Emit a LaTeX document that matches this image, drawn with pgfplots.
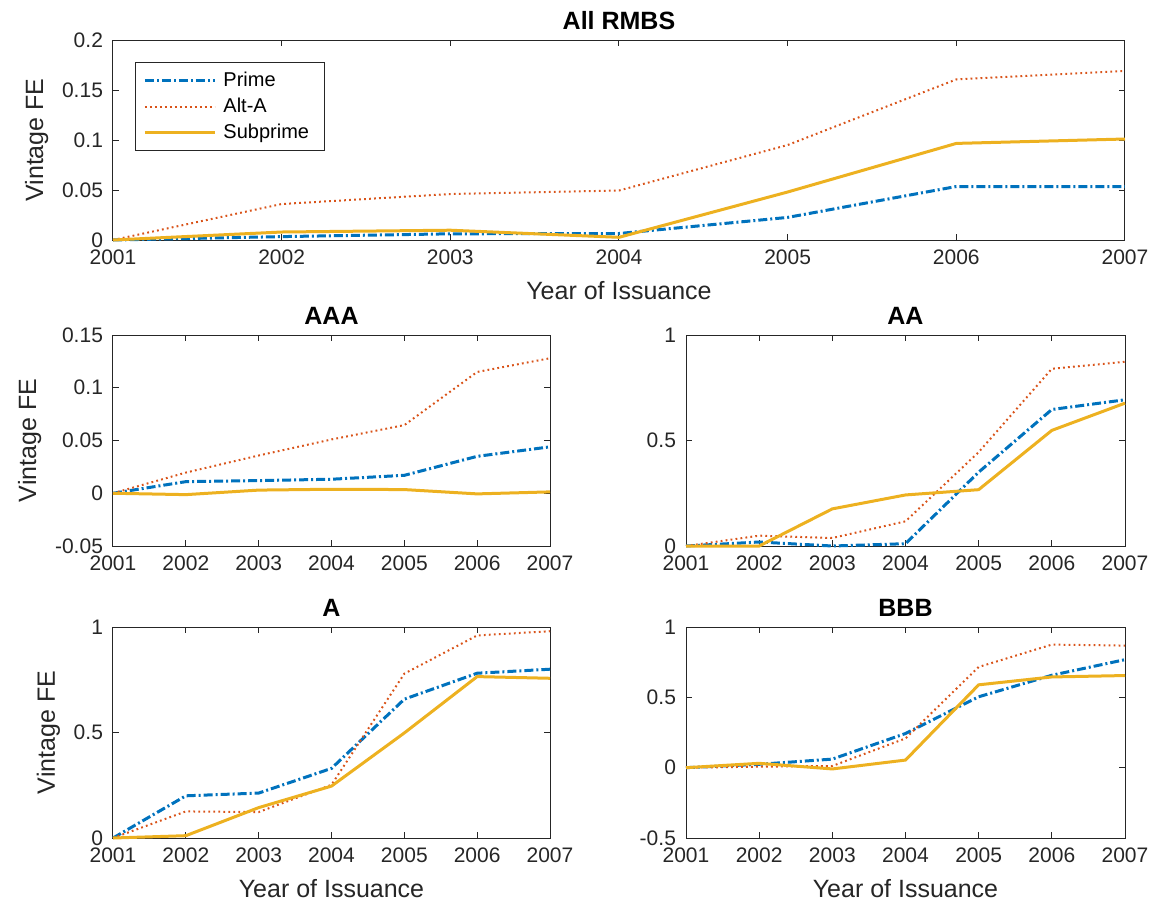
\documentclass[border=0pt]{standalone}
\usepackage{fontspec}
\setmainfont{Liberation Sans}
\usepackage{pgfplots}
\pgfplotsset{compat=1.18}
\definecolor{mblue}{rgb}{0,0.447,0.741}
\definecolor{morange}{rgb}{0.850,0.325,0.098}
\definecolor{myellow}{rgb}{0.929,0.694,0.125}
\definecolor{axgray}{rgb}{0.15,0.15,0.15}
\pgfplotsset{
 mystyle/.style={
  scale only axis,
  anchor=south west,
  clip=false,
  xmin=2001, xmax=2007,
  xtick={2001,2002,2003,2004,2005,2006,2007},
  /pgf/number format/1000 sep={},
  /pgf/number format/assume math mode=true,
  axis line style={axgray, line width=0.5pt},
  tick style={axgray, line width=0.5pt},
  major tick length=3pt,
  tick align=inside,
  ticklabel style={font=\fontsize{10.5}{12}\selectfont, text=axgray},
  xticklabel style={yshift=-1.5pt},
  yticklabel style={xshift=-1.5pt},
  label style={font=\fontsize{12.5}{14}\selectfont, text=axgray},
  xlabel style={yshift=-1.5pt},
  title style={font=\fontsize{12.5}{14}\selectfont\bfseries, text=black, yshift=-4.5pt},
  scaled y ticks=false,
  yticklabel style={/pgf/number format/fixed, /pgf/number format/precision=2},
 },
 prime/.style={mblue, line width=1.5pt, dash pattern=on 4.5pt off 1.5pt on 1pt off 1.5pt},
 alta/.style={morange, line width=1pt, dash pattern=on 0.9pt off 1.6pt},
 subp/.style={myellow, line width=1.5pt},
}
\begin{document}
\begin{tikzpicture}
\useasboundingbox (0pt,0pt) rectangle (576.5pt,-453.5pt);
% Top: All RMBS
\begin{axis}[mystyle, at={(56.5pt,-120pt)}, width=506pt, height=100pt,
  ymin=0, ymax=0.2, ytick={0,0.05,0.1,0.15,0.2},
  title={All RMBS}, xlabel={Year of Issuance}, ylabel={Vintage FE},
  legend style={at={(0.0217,0.89)}, anchor=north west, draw=axgray, line width=0.5pt,
    font=\fontsize{10}{12}\selectfont, text=black, row sep=0.2pt, inner xsep=4pt, inner ysep=2.8pt,
    nodes={inner xsep=3.5pt}},
  legend cell align=left,
  legend image code/.code={\draw[#1] (0pt,0pt) -- (35pt,0pt);}]
\addplot[prime] coordinates {(2001,0) (2002,0.0034) (2003,0.0062) (2004,0.0065) (2005,0.0226) (2006,0.0535) (2007,0.0535)};
\addlegendentry{Prime}
\addplot[alta] coordinates {(2001,0) (2002,0.036) (2003,0.046) (2004,0.0495) (2005,0.095) (2006,0.1606) (2007,0.169)};
\addlegendentry{Alt-A}
\addplot[subp] coordinates {(2001,0) (2002,0.008) (2003,0.0098) (2004,0.0027) (2005,0.048) (2006,0.0966) (2007,0.101)};
\addlegendentry{Subprime}
\end{axis}
% AAA
\begin{axis}[mystyle, at={(56.5pt,-273pt)}, width=218.5pt, height=105.5pt,
  ymin=-0.05, ymax=0.15, ytick={-0.05,0,0.05,0.1,0.15},
  title={AAA}, ylabel={Vintage FE}]
\addplot[prime] coordinates {(2001,0) (2002,0.011) (2003,0.012) (2004,0.0133) (2005,0.017) (2006,0.035) (2007,0.044)};
\addplot[alta] coordinates {(2001,0) (2002,0.0196) (2003,0.0358) (2004,0.051) (2005,0.0646) (2006,0.115) (2007,0.128)};
\addplot[subp] coordinates {(2001,0) (2002,-0.0013) (2003,0.003) (2004,0.0038) (2005,0.0035) (2006,-0.0006) (2007,0.0013)};
\end{axis}
% AA
\begin{axis}[mystyle, at={(343pt,-273pt)}, width=219.5pt, height=105.5pt,
  ymin=0, ymax=1, ytick={0,0.5,1},
  title={AA}]
\addplot[prime] coordinates {(2001,0) (2002,0.019) (2003,0.0) (2004,0.011) (2005,0.35) (2006,0.647) (2007,0.693)};
\addplot[alta] coordinates {(2001,0) (2002,0.049) (2003,0.038) (2004,0.117) (2005,0.445) (2006,0.84) (2007,0.873)};
\addplot[subp] coordinates {(2001,0) (2002,0) (2003,0.176) (2004,0.242) (2005,0.267) (2006,0.548) (2007,0.677)};
\end{axis}
% A
\begin{axis}[mystyle, at={(56.5pt,-419pt)}, width=218.5pt, height=105.5pt,
  ymin=0, ymax=1, ytick={0,0.5,1},
  title={A}, xlabel={Year of Issuance}, ylabel={Vintage FE}]
\addplot[prime] coordinates {(2001,0) (2002,0.2) (2003,0.213) (2004,0.33) (2005,0.658) (2006,0.781) (2007,0.80)};
\addplot[alta] coordinates {(2001,0) (2002,0.126) (2003,0.123) (2004,0.252) (2005,0.779) (2006,0.96) (2007,0.98)};
\addplot[subp] coordinates {(2001,0) (2002,0.011) (2003,0.144) (2004,0.246) (2005,0.498) (2006,0.765) (2007,0.757)};
\end{axis}
% BBB
\begin{axis}[mystyle, at={(343pt,-419pt)}, width=219.5pt, height=105.5pt,
  ymin=-0.5, ymax=1, ytick={-0.5,0,0.5,1},
  title={BBB}, xlabel={Year of Issuance}]
\addplot[prime] coordinates {(2001,0) (2002,0.024) (2003,0.061) (2004,0.243) (2005,0.504) (2006,0.657) (2007,0.768)};
\addplot[alta] coordinates {(2001,0) (2002,0.007) (2003,0.012) (2004,0.208) (2005,0.716) (2006,0.875) (2007,0.868)};
\addplot[subp] coordinates {(2001,0) (2002,0.031) (2003,-0.009) (2004,0.054) (2005,0.589) (2006,0.645) (2007,0.655)};
\end{axis}
\end{tikzpicture}
\end{document}
